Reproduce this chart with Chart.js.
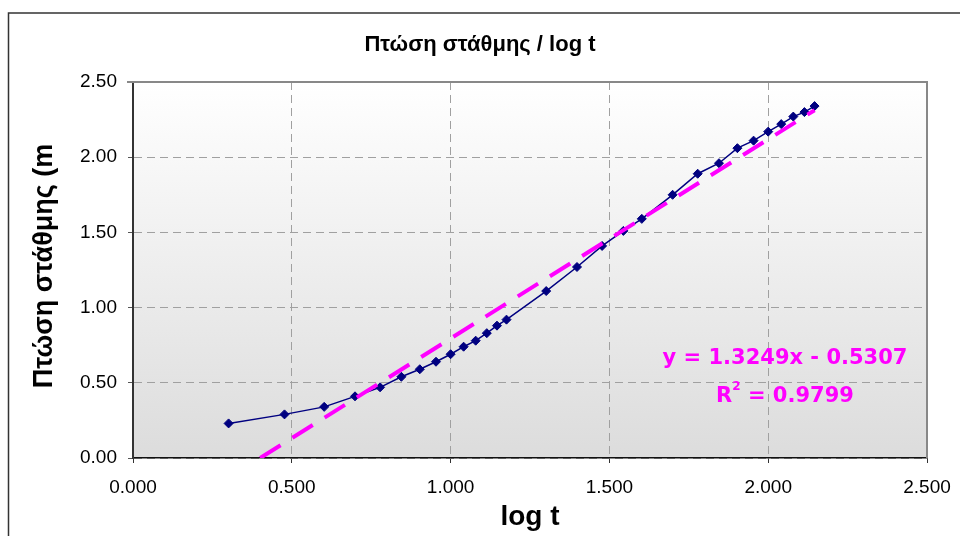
<!DOCTYPE html>
<html>
<head>
<meta charset="utf-8">
<script src="https://cdn.jsdelivr.net/npm/chart.js@4.4.1/dist/chart.umd.min.js"></script>
<style>
  html, body { margin: 0; padding: 0; background: #fff; }
  #wrap { width: 960px; height: 536px; }
</style>
</head>
<body>
<div id="wrap"><canvas id="chart" width="960" height="536"></canvas></div>
<script>
// log t values and measured drawdown (m)
const logT = [0.301, 0.477, 0.602, 0.699, 0.778, 0.845, 0.903, 0.954, 1.000, 1.041,
              1.079, 1.114, 1.146, 1.176, 1.301, 1.398, 1.477, 1.544, 1.602, 1.699,
              1.778, 1.845, 1.903, 1.954, 2.000, 2.041, 2.079, 2.114, 2.146];
const drawdown = [0.23, 0.29, 0.34, 0.41, 0.47, 0.54, 0.59, 0.64, 0.69, 0.74,
                  0.78, 0.83, 0.88, 0.92, 1.11, 1.27, 1.41, 1.51, 1.59, 1.75,
                  1.89, 1.96, 2.06, 2.11, 2.17, 2.22, 2.27, 2.30, 2.34];

// linear trendline y = 1.3249x - 0.5307
const slope = 1.3249;
const intercept = -0.5307;
const trendX = [0.4006, 2.146];

const xTicks = [0, 0.5, 1, 1.5, 2, 2.5];
const yTicks = [0, 0.5, 1, 1.5, 2, 2.5];

const points = logT.map((x, i) => ({ x: x, y: drawdown[i] }));
const trendPoints = trendX.map(x => ({ x: x, y: slope * x + intercept }));

const FONT = '"Liberation Sans", Arial, sans-serif';

const decorPlugin = {
    id: 'decor',
    beforeDraw(chart) {
        const ctx = chart.ctx;
        const a = chart.chartArea;
        ctx.save();
        // plot area gradient
        const g = ctx.createLinearGradient(0, a.top, 0, a.bottom);
        g.addColorStop(0, '#ffffff');
        g.addColorStop(1, '#dcdcdc');
        ctx.fillStyle = g;
        ctx.fillRect(a.left, a.top, a.right - a.left, a.bottom - a.top);
        // outer chart frame
        ctx.strokeStyle = '#333333';
        ctx.lineWidth = 1.5;
        ctx.strokeRect(8.5, 13, 1000, 600);
        ctx.restore();
    },
    afterDatasetsDraw(chart) {
        const ctx = chart.ctx;
        const a = chart.chartArea;
        ctx.save();
        // top and right plot border
        ctx.strokeStyle = '#888888';
        ctx.lineWidth = 2;
        ctx.beginPath();
        ctx.moveTo(a.left - 6, a.top);
        ctx.lineTo(a.right, a.top);
        ctx.lineTo(a.right, a.bottom);
        ctx.stroke();
        ctx.restore();
    },
    afterDraw(chart) {
        const ctx = chart.ctx;
        ctx.save();
        ctx.fillStyle = '#000000';
        ctx.textAlign = 'center';
        ctx.textBaseline = 'middle';
        ctx.font = 'bold 22px ' + FONT;
        ctx.fillText('Πτώση στάθμης / log t', 480, 45);
        ctx.font = 'bold 28px ' + FONT;
        ctx.fillText('log t', 530, 517);
        ctx.save();
        ctx.translate(45, 266);
        ctx.rotate(-Math.PI / 2);
        ctx.font = 'bold 27px ' + FONT;
        ctx.fillText('Πτώση στάθμης (m', 0, 0);
        ctx.restore();

        // trendline equation
        ctx.fillStyle = '#ff00ff';
        ctx.font = 'bold 21px "DejaVu Sans", sans-serif';
        ctx.textBaseline = 'alphabetic';
        ctx.fillText('y = 1.3249x - 0.5307', 785, 364);
        const r1 = 'R';
        const r2 = ' = 0.9799';
        const w1 = ctx.measureText(r1).width;
        ctx.font = 'bold 12px "DejaVu Sans", sans-serif';
        const ws = ctx.measureText('2').width;
        ctx.font = 'bold 21px "DejaVu Sans", sans-serif';
        const w2 = ctx.measureText(r2).width;
        const x0 = 785 - (w1 + ws + w2) / 2;
        ctx.textAlign = 'left';
        ctx.fillText(r1, x0, 402);
        ctx.fillText(r2, x0 + w1 + ws, 402);
        ctx.font = 'bold 12px "DejaVu Sans", sans-serif';
        ctx.fillText('2', x0 + w1, 390);
        ctx.restore();
    }
};

const edgeColor = (ctx) => (ctx.tick && ctx.tick.value >= 2.5 ? 'rgba(0,0,0,0)' : '#a0a0a0');

new Chart(document.getElementById('chart').getContext('2d'), {
    type: 'scatter',
    data: {
        datasets: [{
            label: 'Πτώση στάθμης',
            data: points,
            showLine: true,
            borderColor: '#000080',
            backgroundColor: '#000080',
            borderWidth: 1.5,
            pointStyle: 'rectRot',
            pointRadius: 4.5,
            pointBorderWidth: 1,
            order: 2
        }, {
            label: 'Linear',
            data: trendPoints,
            showLine: true,
            borderColor: '#ff00ff',
            borderWidth: 4,
            borderDash: [24, 14],
            pointRadius: 0,
            order: 1
        }]
    },
    options: {
        responsive: false,
        animation: false,
        layout: { padding: { top: 82, right: 33, left: 0, bottom: 0 } },
        plugins: {
            legend: { display: false },
            title: { display: false },
            tooltip: { enabled: false }
        },
        scales: {
            x: {
                type: 'linear',
                min: 0,
                max: 2.5,
                afterFit: s => { s.height = 78; s.paddingLeft = 0; s.paddingRight = 0; },
                afterBuildTicks: s => { s.ticks = xTicks.map(v => ({ value: v })); },
                ticks: {
                    color: '#000',
                    font: { family: FONT, size: 19 },
                    padding: 13,
                    maxRotation: 0,
                    callback: v => Number(v).toFixed(3)
                },
                grid: { color: edgeColor, tickColor: '#333', tickLength: 5, lineWidth: 1 },
                border: { color: '#111', width: 1.5, dash: [8, 5] }
            },
            y: {
                type: 'linear',
                min: 0,
                max: 2.5,
                afterFit: s => { s.width = 133; s.paddingTop = 0; s.paddingBottom = 0; },
                afterBuildTicks: s => { s.ticks = yTicks.map(v => ({ value: v })); },
                ticks: {
                    color: '#000',
                    font: { family: FONT, size: 19 },
                    padding: 11,
                    callback: v => Number(v).toFixed(2)
                },
                grid: { color: edgeColor, tickColor: '#555', tickLength: 5, lineWidth: 1 },
                border: { color: '#333', width: 2, dash: [8, 5] }
            }
        }
    },
    plugins: [decorPlugin]
});
</script>
</body>
</html>
